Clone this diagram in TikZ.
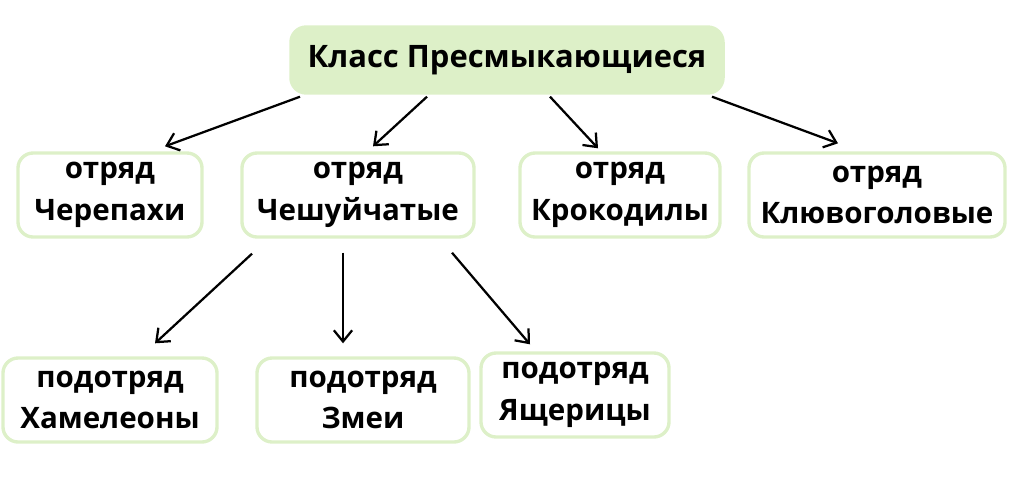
\documentclass[tikz,border=0pt]{standalone}
\usepackage{fontspec}
\setmainfont{Open Sans}
\usetikzlibrary{calc,arrows.meta}
\definecolor{lgreen}{HTML}{DDF0C8}
\tikzset{
  taxbox/.style={draw=lgreen,line width=2.4pt,rounded corners=0.38cm,align=center,
    font=\bfseries\fontsize{21}{29.5}\selectfont,inner sep=0pt,minimum height=2.1cm},
  arr/.style={-{Straight Barb[length=8pt,width=13pt,line width=1.6pt]},line width=1.6pt}
}
\begin{document}
\begin{tikzpicture}[x=0.025cm,y=-0.025cm]
\useasboundingbox (0,0) rectangle (1024,502);
\node[taxbox,fill=lgreen,minimum width=10.8cm,minimum height=1.65cm,font=\bfseries\fontsize{22}{29.5}\selectfont] (klass) at (507,60) {Класс Пресмыкающиеся};
% отряды
\node[taxbox,minimum width=4.6cm] (cherep) at (110,195) {отряд\\Черепахи};
\node[taxbox,minimum width=5.8cm] (cheshu) at (358,195) {отряд\\Чешуйчатые};
\node[taxbox,minimum width=5.0cm] (krokod) at (620,195) {отряд\\Крокодилы};
\node[taxbox,minimum width=6.4cm] (klyuvo) at (877,195) {отряд\\Клювоголовые};
% подотряды
\node[taxbox,minimum width=5.35cm] (hamel) at (110,400) {подотряд\\Хамелеоны};
\node[taxbox,minimum width=5.3cm] (zmei) at (363,400) {подотряд\\Змеи};
\node[taxbox,minimum width=4.7cm] (yasch) at (575,395) {подотряд\\Ящерицы};
% стрелки
\draw[arr] ($(klass.south)+(-207,2)$) -- ($(cherep.north)+(55,-5)$);
\draw[arr] ($(klass.south)+(-80,2)$) -- ($(cheshu.north)+(15,-5)$);
\draw[arr] ($(klass.south)+(43,2)$) -- ($(krokod.north)+(-22,-3)$);
\draw[arr] ($(klass.south)+(205,2)$) -- ($(klyuvo.north)+(-39,-8)$);
\draw[arr] ($(cheshu.south)+(-106,15)$) -- ($(hamel.north)+(45,-13)$);
\draw[arr] ($(cheshu.south)+(-15,14)$) -- ($(zmei.north)+(-20,-13)$);
\draw[arr] ($(cheshu.south)+(94,14)$) -- ($(yasch.north)+(-45,-7)$);
\end{tikzpicture}
\end{document}
